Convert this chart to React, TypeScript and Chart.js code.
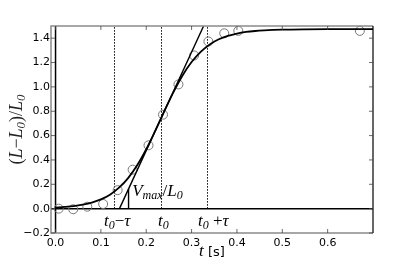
import React, { useEffect, useRef } from "react";
import { Chart, registerables } from "chart.js";

Chart.register(...registerables);

// measured data points
const obsT = [0.007, 0.039, 0.07, 0.105, 0.137, 0.17, 0.205, 0.237, 0.271, 0.3055, 0.337, 0.372, 0.403, 0.671];
const obsY = [0.0, -0.005, 0.016, 0.038, 0.152, 0.32, 0.52, 0.772, 1.02, 1.258, 1.373, 1.44, 1.46, 1.46];

// fitted curve
const fitT = [0, 0.02, 0.04, 0.06, 0.08, 0.1, 0.12, 0.14, 0.16, 0.18, 0.2, 0.22, 0.232, 0.24, 0.26, 0.28, 0.3, 0.32, 0.34, 0.36, 0.38, 0.4, 0.42, 0.44, 0.46, 0.5, 0.55, 0.6, 0.65, 0.7];
const fitY = [0.009, 0.014, 0.021, 0.033, 0.05, 0.076, 0.115, 0.172, 0.251, 0.356, 0.488, 0.641, 0.737, 0.802, 0.957, 1.094, 1.204, 1.288, 1.349, 1.391, 1.419, 1.438, 1.451, 1.459, 1.464, 1.47, 1.473, 1.474, 1.474, 1.474];

// tangent line at t0 and slope triangle
const tangentT = [0.141, 0.3265];
const tangentY = [0, 1.5];
const triT = [0.161, 0.161];
const triY = [0, 0.162];

// characteristic times
const t0 = 0.232;
const tau = 0.103;
const markerT = [t0 - tau, t0, t0 + tau];

const xTicks = [0, 0.1, 0.2, 0.3, 0.4, 0.5, 0.6];
const yTicks = [-0.2, 0, 0.2, 0.4, 0.6, 0.8, 1.0, 1.2, 1.4];
const xMin = -0.01, xMax = 0.7, yMin = -0.2, yMax = 1.5;

const pts = (xs: number[], ys: number[]) => xs.map((x, i) => ({ x, y: ys[i] }));

const SERIF_I = "italic 17px 'Liberation Serif'";
const SERIF_I_SUB = "italic 12px 'Liberation Serif'";
const SERIF = "17px 'Liberation Serif'";
const YL_I = "italic 18px 'Liberation Serif'";
const YL_SUB = "italic 13px 'Liberation Serif'";
const YL = "18px 'Liberation Serif'";

type Run = { t: string; f: string; dy?: number };
function runsWidth(ctx: CanvasRenderingContext2D, runs: Run[]) {
  let w = 0;
  for (const r of runs) { ctx.font = r.f; w += ctx.measureText(r.t).width; }
  return w;
}
function drawRuns(ctx: CanvasRenderingContext2D, x: number, y: number, runs: Run[]) {
  let cx = x;
  for (const r of runs) {
    ctx.font = r.f;
    ctx.fillText(r.t, cx, y + (r.dy || 0));
    cx += ctx.measureText(r.t).width;
  }
}

const decor = {
  id: "decor",
  beforeDatasetsDraw(chart: any) {
    const { ctx, chartArea: a, scales } = chart;
    const xs = scales.x, ys = scales.y;
    ctx.save();
    ctx.beginPath();
    ctx.rect(a.left, a.top, a.right - a.left, a.bottom - a.top);
    ctx.clip();
    ctx.strokeStyle = "#000";
    ctx.lineWidth = 1;
    ctx.setLineDash([1.5, 1.5]);
    for (const t of markerT) {
      const px = Math.round(xs.getPixelForValue(t)) + 0.5;
      ctx.beginPath();
      ctx.moveTo(px, ys.getPixelForValue(0));
      ctx.lineTo(px, a.top);
      ctx.stroke();
    }
    ctx.setLineDash([]);
    ctx.lineWidth = 1.5;
    ctx.beginPath();
    ctx.moveTo(a.left, ys.getPixelForValue(0));
    ctx.lineTo(a.right, ys.getPixelForValue(0));
    ctx.moveTo(xs.getPixelForValue(0), a.top);
    ctx.lineTo(xs.getPixelForValue(0), a.bottom);
    ctx.stroke();
    ctx.restore();
  },
  afterDatasetsDraw(chart: any) {
    const { ctx, chartArea: a, scales } = chart;
    const xs = scales.x, ys = scales.y;
    ctx.save();
    ctx.strokeStyle = "#8a8a8a";
    ctx.lineWidth = 1.5;
    ctx.beginPath();
    ctx.moveTo(a.right, a.top);
    ctx.lineTo(a.left, a.top);
    ctx.lineTo(a.left, a.bottom);
    ctx.lineTo(a.right, a.bottom);
    ctx.stroke();
    ctx.strokeStyle = "#000";
    ctx.lineWidth = 1.2;
    ctx.beginPath();
    ctx.moveTo(a.right, a.top);
    ctx.lineTo(a.right, a.bottom);
    ctx.stroke();
    ctx.lineWidth = 0.8;
    ctx.strokeStyle = "#444";
    ctx.beginPath();
    for (const v of xTicks) {
      const px = xs.getPixelForValue(v);
      ctx.moveTo(px, a.bottom); ctx.lineTo(px, a.bottom - 4);
      ctx.moveTo(px, a.top); ctx.lineTo(px, a.top + 4);
    }
    for (const v of yTicks) {
      const py = ys.getPixelForValue(v);
      ctx.moveTo(a.left, py); ctx.lineTo(a.left + 4, py);
      ctx.moveTo(a.right, py); ctx.lineTo(a.right - 4, py);
    }
    ctx.stroke();
    ctx.restore();

    ctx.save();
    ctx.fillStyle = "#000";
    ctx.textBaseline = "alphabetic";
    ctx.textAlign = "left";
    const by = ys.getPixelForValue(-0.142);
    drawRuns(ctx, xs.getPixelForValue(0.107), by, [
      { t: "t", f: SERIF_I }, { t: "0", f: SERIF_I_SUB, dy: 3 }, { t: "\u2212", f: SERIF }, { t: "τ", f: SERIF_I },
    ]);
    drawRuns(ctx, xs.getPixelForValue(0.226), by, [
      { t: "t", f: SERIF_I }, { t: "0", f: SERIF_I_SUB, dy: 3 },
    ]);
    drawRuns(ctx, xs.getPixelForValue(0.314), by, [
      { t: "t", f: SERIF_I }, { t: "0", f: SERIF_I_SUB, dy: 3 }, { t: " +", f: SERIF }, { t: "τ", f: SERIF_I },
    ]);
    drawRuns(ctx, xs.getPixelForValue(0.169), ys.getPixelForValue(0.1), [
      { t: "V", f: SERIF_I }, { t: "max", f: SERIF_I_SUB, dy: 3 }, { t: "/", f: SERIF }, { t: "L", f: SERIF_I }, { t: "0", f: SERIF_I_SUB, dy: 3 },
    ]);

    const xl: Run[] = [{ t: "t", f: SERIF_I }, { t: " [s]", f: "13px 'DejaVu Sans'" }];
    const xw = runsWidth(ctx, xl);
    drawRuns(ctx, (a.left + a.right) / 2 - xw / 2, 256, xl);
    ctx.restore();

    // rotated y label, centred on the plot's vertical middle
    const yl: Run[] = [
      { t: "(", f: YL }, { t: "L", f: YL_I }, { t: "\u2212", f: YL }, { t: "L", f: YL_I },
      { t: "0", f: YL_SUB, dy: 3 }, { t: ")/", f: YL }, { t: "L", f: YL_I }, { t: "0", f: YL_SUB, dy: 3 },
    ];
    ctx.save();
    ctx.textAlign = "left";
    ctx.textBaseline = "alphabetic";
    const yw = runsWidth(ctx, yl);
    const startY = (a.top + a.bottom) / 2 + yw / 2;
    ctx.fillStyle = "#222";
    ctx.setTransform(0, -1, 1, 0, 22, startY);
    drawRuns(ctx, 0, 0, yl);
    ctx.restore();
  },
};

export default function App() {
  const ref = useRef<HTMLCanvasElement>(null);
  useEffect(() => {
    if (!ref.current) return;
    const chart = new Chart(ref.current, {
      type: "scatter",
      data: {
        datasets: [
          {
            data: pts(fitT, fitY), showLine: true, borderColor: "#000", borderWidth: 1.8,
            pointRadius: 0, cubicInterpolationMode: "monotone",
          } as any,
          {
            data: pts(tangentT, tangentY), showLine: true, borderColor: "#000", borderWidth: 1.4, pointRadius: 0,
          },
          {
            data: pts(triT, triY), showLine: true, borderColor: "#000", borderWidth: 1.4, pointRadius: 0,
          },
          {
            data: pts(obsT, obsY), showLine: false, pointRadius: 4.5, pointBorderColor: "#777",
            pointBackgroundColor: "rgba(0,0,0,0)", pointBorderWidth: 1,
          },
        ],
      },
      options: {
        animation: false,
        responsive: false,
        devicePixelRatio: 1,
        layout: { padding: { left: 0, right: 42, top: 26, bottom: 0 } },
        plugins: { legend: { display: false }, tooltip: { enabled: false } },
        scales: {
          x: {
            type: "linear", min: xMin, max: xMax,
            grid: { display: false, drawTicks: false },
            border: { display: false },
            afterBuildTicks: (s: any) => { s.ticks = xTicks.map((v) => ({ value: v })); },
            afterFit: (s: any) => { s.height = 27; },
            ticks: {
              padding: 4, color: "#000", font: { family: "'DejaVu Sans'", size: 11 },
              callback: (v: any) => Number(v).toFixed(1),
            },
          },
          y: {
            type: "linear", min: yMin, max: yMax,
            grid: { display: false, drawTicks: false },
            border: { display: false },
            afterBuildTicks: (s: any) => { s.ticks = yTicks.map((v) => ({ value: v })); },
            afterFit: (s: any) => { s.width = 51; },
            ticks: {
              padding: 1, color: "#000", font: { family: "'DejaVu Sans'", size: 11 },
              callback: (v: any) => Number(v).toFixed(1).replace("-", "\u2212"),
            },
          },
        },
      },
      plugins: [decor],
    });
    return () => chart.destroy();
  }, []);
  return (
    <div style={{ position: "fixed", left: 0, top: 0, width: 415, height: 260, background: "#fff" }}>
      <canvas ref={ref} width={415} height={260} />
    </div>
  );
}
